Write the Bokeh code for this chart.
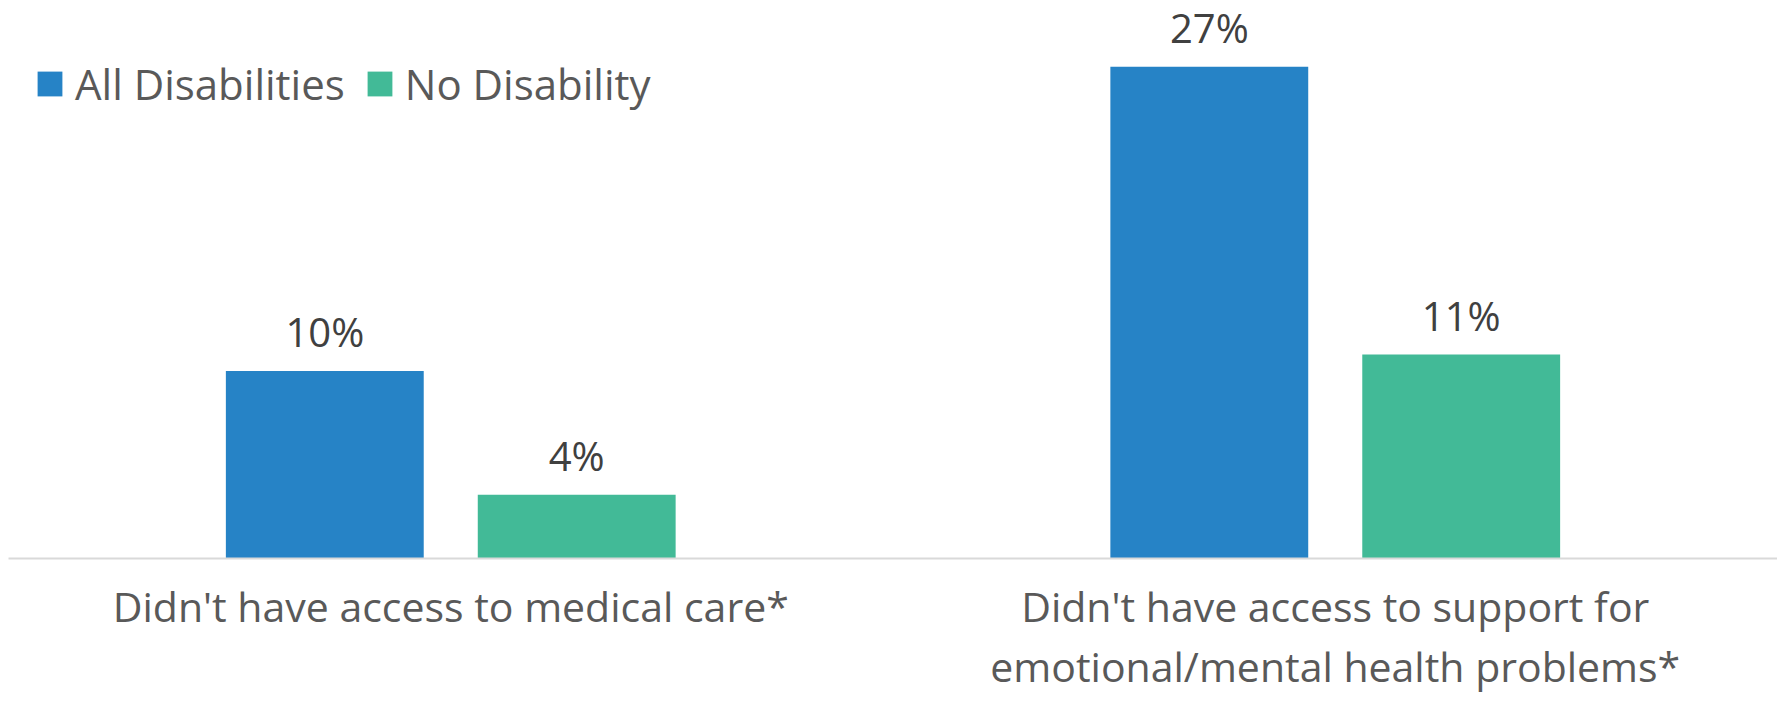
from bokeh.plotting import figure
from bokeh.models import ColumnDataSource, FactorRange, Range1d, LabelSet, Legend, LegendItem
from bokeh.transform import dodge
from bokeh.core.properties import value
from bokeh.embed import file_html
from bokeh.resources import INLINE

categories = ["Didn't have access to medical care*",
              "Didn't have access to support for\nemotional/mental health problems*"]
series_names = ["All Disabilities", "No Disability"]
all_disabilities = [10.3, 27.0]
no_disability = [3.5, 11.2]
all_labels = ["10%", "27%"]
no_labels = ["4%", "11%"]
colors = ["#2683C6", "#42BA97"]

FONT = "Open Sans"

src = ColumnDataSource(dict(cat=categories, a=all_disabilities, n=no_disability,
                            al=all_labels, nl=no_labels))

p = figure(width=1777, height=701, x_range=FactorRange(*categories, range_padding=0),
           y_range=Range1d(0, 30.64), output_backend="svg", toolbar_location=None,
           min_border_left=8, min_border_right=0, min_border_top=0, min_border_bottom=143)
p.x_range.range_padding = 0
p.outline_line_color = None
p.xgrid.visible = False
p.ygrid.visible = False
p.yaxis.visible = False
p.background_fill_color = "white"
p.border_fill_color = "white"

off = 0.1424
w = 0.2237
r1 = p.vbar(x=dodge("cat", -off, range=p.x_range), top="a", width=w, source=src,
            fill_color=colors[0], line_color=None)
r2 = p.vbar(x=dodge("cat", off, range=p.x_range), top="n", width=w, source=src,
            fill_color=colors[1], line_color=None)

for col, lab, o in [("a", "al", -off), ("n", "nl", off)]:
    ls = LabelSet(x=dodge("cat", o, range=p.x_range), y=col, text=lab, source=src,
                  text_align="center", text_baseline="alphabetic", y_offset=24,
                  text_font=value(FONT), text_font_size="40px", text_color="#404040")
    p.add_layout(ls)

ax = p.xaxis[0]
ax.axis_line_color = "#D9D9D9"
ax.axis_line_width = 2
ax.major_tick_line_color = None
ax.minor_tick_line_color = None
ax.major_label_text_font = FONT
ax.major_label_text_font_size = "41px"
ax.major_label_text_color = "#595959"
ax.major_label_standoff = 13
ax.major_label_text_line_height = 1.08

legend = Legend(items=[LegendItem(label=series_names[0], renderers=[r1]),
                       LegendItem(label=series_names[1], renderers=[r2])],
                orientation="horizontal", location=(26, 446),
                label_text_font=FONT, label_text_font_size="42px",
                label_text_color="#595959", glyph_width=31, glyph_height=31,
                label_standoff=10, spacing=19, padding=0, margin=0,
                border_line_color=None, background_fill_alpha=0)
p.add_layout(legend)

open("out.html", "w").write(file_html(p, INLINE))
